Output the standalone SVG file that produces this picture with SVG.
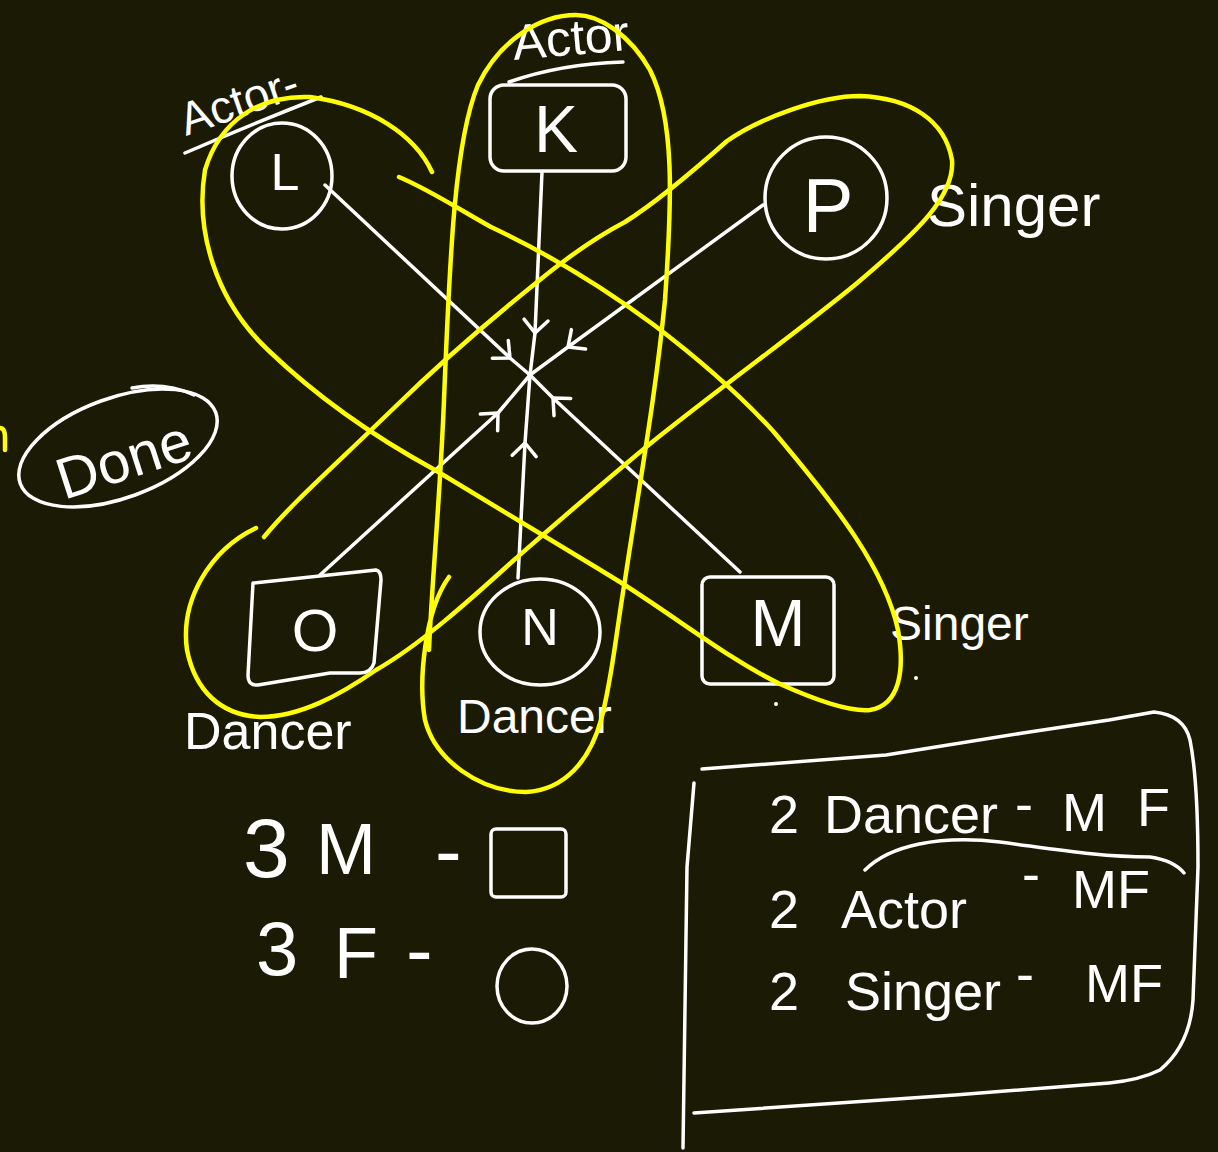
<svg xmlns="http://www.w3.org/2000/svg" width="1218" height="1152" viewBox="0 0 1218 1152">
<style>
.w{fill:none;stroke:#ffffff;stroke-width:3.5;stroke-linecap:round;stroke-linejoin:round}
.y{fill:none;stroke:#ffff00;stroke-width:4.5;stroke-linecap:round;stroke-linejoin:round}
.t{fill:#ffffff;font-family:"Liberation Sans",Arial,sans-serif}
.c{text-anchor:middle}
</style>
<defs>
<marker id="chev" viewBox="-18 -18 36 36" markerWidth="36" markerHeight="36" markerUnits="userSpaceOnUse" orient="auto" refX="0" refY="0">
<path d="M-13,-12 L0,0 L-13,12" fill="none" stroke="#ffffff" stroke-width="3.5" stroke-linecap="round" stroke-linejoin="round"/>
</marker>
</defs>
<rect width="1218" height="1152" fill="#1b1a05"/>

<g id="connectors" class="w">
<path d="M325,185 L510,358 L530,375" marker-mid="url(#chev)"/>
<path d="M542,172 L535,333 L530,375" marker-mid="url(#chev)"/>
<path d="M763,205 L568,347 L530,375" marker-mid="url(#chev)"/>
<path d="M320,575 L498,413 L530,375" marker-mid="url(#chev)"/>
<path d="M518,578 L525,443 L530,375" marker-mid="url(#chev)"/>
<path d="M740,572 L553,398 L530,375" marker-mid="url(#chev)"/>
</g>

<g id="node-L">
<ellipse class="w" cx="282" cy="176" rx="50" ry="53"/>
<text class="t c" x="285" y="190" font-size="52">L</text>
<text class="t" x="186" y="136" font-size="46" transform="rotate(-19 186 136)">Actor-</text>
<path class="w" d="M185,153 Q250,125 321,97"/>
</g>

<g id="node-K">
<rect class="w" x="490" y="85" width="136" height="86" rx="14"/>
<text class="t c" x="556" y="152" font-size="66">K</text>
<text class="t" x="514" y="60" font-size="50" transform="rotate(-5 514 60)">Actor</text>
<path class="w" d="M509,82 Q560,64 623,62"/>
</g>

<g id="node-P">
<circle class="w" cx="826" cy="198" r="61"/>
<text class="t c" x="828" y="232" font-size="76">P</text>
<text class="t" x="927" y="226" font-size="60">Singer</text>
</g>

<g id="node-O">
<path class="w" d="M253,583 L376,570 Q381,571 381,580 L374,663 Q371,673 360,673 L330,673 L258,685 Q248,686 248,675 Z"/>
<text class="t c" x="315" y="651" font-size="60">O</text>
<text class="t" x="184" y="749" font-size="52">Dancer</text>
</g>

<g id="node-N">
<ellipse class="w" cx="540" cy="632" rx="60" ry="53"/>
<text class="t c" x="540" y="645" font-size="52">N</text>
<text class="t" x="457" y="733" font-size="48">Dancer</text>
</g>

<g id="node-M">
<rect class="w" x="702" y="577" width="132" height="107" rx="8"/>
<text class="t c" x="778" y="646" font-size="66">M</text>
<text class="t" x="890" y="640" font-size="48">Singer</text>
<circle cx="916" cy="678" r="2" fill="#ffffff"/>
<circle cx="776" cy="704" r="2" fill="#ffffff"/>
</g>

<g id="groupings" class="y">
<path d="M449,577 C425,610 418,680 425,720 C435,760 480,792 526,792 C565,790 590,760 601,720 C612,680 615,640 625,580 C640,480 655,400 665,300 C672,200 675,120 650,70 C630,35 600,15 576,15 C540,15 500,40 478,85 C455,140 450,250 444,400 C440,500 432,580 429,650"/>
<path d="M432,172 C415,135 370,105 310,97 C260,95 220,120 205,170 C195,230 215,300 268,350 C320,400 380,440 435,470 C500,510 560,545 620,582 C680,620 730,660 780,684 C820,702 850,712 870,710 C900,705 905,670 898,630 C885,570 840,510 773,431 C740,395 700,360 654,325 C600,285 540,250 491,227 C460,210 430,190 399,177"/>
<path d="M264,537 C290,505 330,470 395,407 C440,363 490,320 536,283 C570,255 600,235 625,222 C660,200 700,165 727,141 C760,118 820,96 860,96 C910,98 945,120 952,160 C955,195 920,230 856,284 C800,330 730,380 651,443 C600,485 560,520 514,560 C470,600 420,645 376,670 C340,695 300,717 260,717 C220,715 195,690 187,650 C180,600 210,550 256,528"/>
<path d="M0,428 Q5,428 5,438 L5,450"/>
</g>

<g id="done">
<ellipse class="w" cx="118" cy="448" rx="104" ry="50" transform="rotate(-20 118 448)"/>
<path class="w" d="M132,388 Q165,382 194,395"/>
<text class="t" x="64" y="500" font-size="58" transform="rotate(-18 64 500)">Done</text>
</g>

<g id="legend">
<text class="t" x="243" y="877" font-size="84">3</text>
<text class="t" x="316" y="874" font-size="72">M</text>
<text class="t" x="435" y="878" font-size="80">-</text>
<rect class="w" x="491" y="829" width="75" height="68" rx="5"/>
<text class="t" x="256" y="975" font-size="76">3</text>
<text class="t" x="334" y="978" font-size="72">F</text>
<text class="t" x="406" y="977" font-size="80">-</text>
<ellipse class="w" cx="532" cy="986" rx="35" ry="37"/>
</g>

<g id="summary">
<path class="w" d="M702,769 L886,755 L1023,733 L1109,720 L1154,712 Q1184,715 1190,740 Q1198,780 1198,867 L1193,1000 Q1190,1045 1160,1070 Q1140,1080 1109,1083 L955,1095 L694,1113"/>
<path class="w" d="M694,783 L687,867 L683,1148"/>
<path class="w" d="M865,870 C890,845 940,835 1000,842 C1060,850 1100,857 1150,857 C1170,860 1180,868 1184,873"/>
<text class="t" font-size="54"><tspan x="769" y="833">2</tspan><tspan x="824" y="833">Dancer</tspan><tspan x="1015" y="822">-</tspan><tspan x="1062" y="831">M</tspan><tspan x="1137" y="826">F</tspan></text>
<text class="t" font-size="54"><tspan x="769" y="928">2</tspan><tspan x="841" y="928">Actor</tspan><tspan x="1022" y="892">-</tspan><tspan x="1072" y="908">MF</tspan></text>
<text class="t" font-size="54"><tspan x="769" y="1010">2</tspan><tspan x="845" y="1010">Singer</tspan><tspan x="1016" y="992">-</tspan><tspan x="1085" y="1002">MF</tspan></text>
</g>
</svg>
